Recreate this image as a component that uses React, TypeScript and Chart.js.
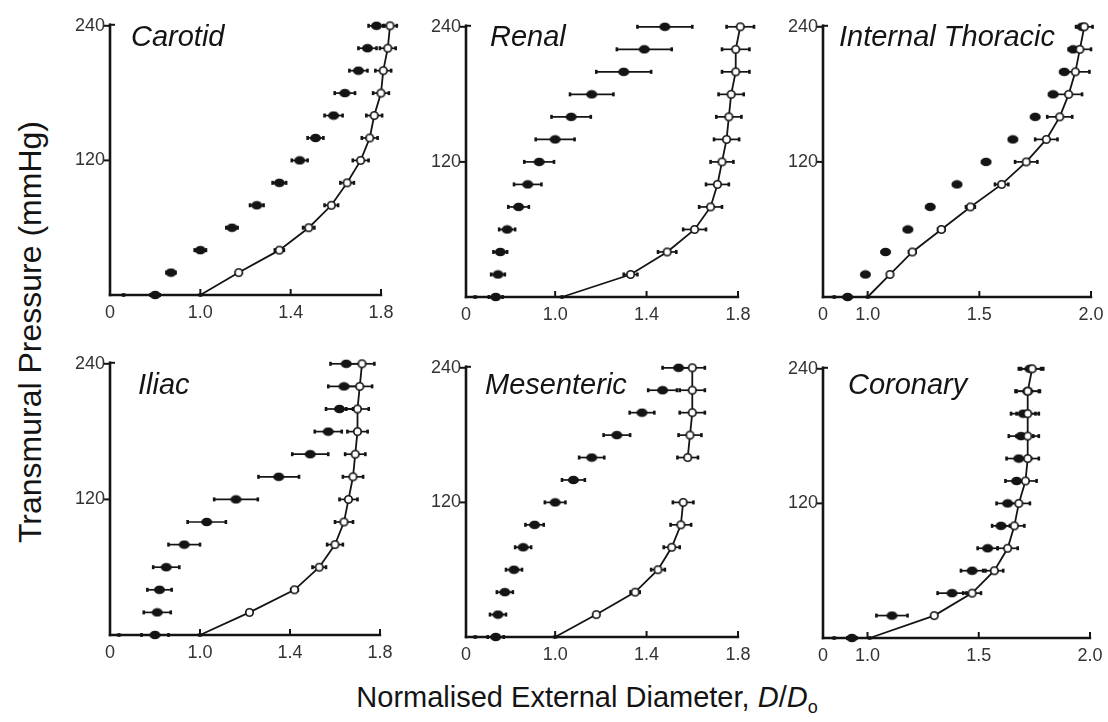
import React, { useEffect, useRef } from "react";
import { Chart, registerables } from "chart.js";
Chart.register(...registerables);

// ---------------- DATA ----------------
const pressure = [0, 20, 40, 60, 80, 100, 120, 140, 160, 180, 200, 220, 240];
const yTicks = [120, 240];
const xTicksA = [1.0, 1.4, 1.8];
const xTicksB = [1.0, 1.5, 2.0];

// Carotid
const carotidFilled = [0.80, 0.87, 1.00, 1.14, 1.25, 1.35, 1.44, 1.51, 1.59, 1.64, 1.70, 1.74, 1.78];
const carotidFilledErr = [0.02, 0.02, 0.025, 0.025, 0.03, 0.03, 0.035, 0.035, 0.04, 0.045, 0.04, 0.04, 0.035];
const carotidOpen = [1.00, 1.17, 1.35, 1.48, 1.58, 1.65, 1.71, 1.75, 1.77, 1.80, 1.81, 1.83, 1.84];
const carotidOpenErr = [0, 0, 0.02, 0.025, 0.03, 0.03, 0.035, 0.035, 0.035, 0.035, 0.035, 0.035, 0.03];
const carotidZero = 0.66;

// Renal
const renalFilled = [0.74, 0.75, 0.76, 0.79, 0.84, 0.88, 0.93, 1.00, 1.07, 1.16, 1.30, 1.39, 1.48];
const renalFilledErr = [0.03, 0.03, 0.03, 0.035, 0.045, 0.06, 0.065, 0.085, 0.086, 0.095, 0.12, 0.12, 0.12];
const renalOpen = [1.03, 1.33, 1.49, 1.61, 1.68, 1.71, 1.73, 1.75, 1.76, 1.77, 1.79, 1.79, 1.81];
const renalOpenErr = [0, 0.03, 0.04, 0.05, 0.05, 0.05, 0.05, 0.055, 0.055, 0.055, 0.06, 0.06, 0.06];
const renalZero = 0.65;

// Internal Thoracic
const thoracicFilled = [0.91, 0.99, 1.08, 1.18, 1.28, 1.40, 1.53, 1.65, 1.75, 1.83, 1.88, 1.92, 1.96];
const thoracicFilledErr = [0.015, 0.015, 0.015, 0.015, 0.015, 0.015, 0.015, 0.015, 0.015, 0.015, 0.015, 0.015, 0.015];
const thoracicOpen = [1.00, 1.10, 1.20, 1.33, 1.46, 1.60, 1.71, 1.80, 1.86, 1.90, 1.93, 1.95, 1.97];
const thoracicOpenErr = [0, 0, 0.015, 0.015, 0.02, 0.03, 0.05, 0.05, 0.056, 0.06, 0.063, 0.05, 0.037];
const thoracicZero = 0.85;

// Iliac
const iliacFilled = [0.80, 0.81, 0.82, 0.85, 0.93, 1.03, 1.16, 1.35, 1.49, 1.57, 1.62, 1.64, 1.65];
const iliacFilledErr = [0.06, 0.06, 0.054, 0.058, 0.07, 0.085, 0.097, 0.09, 0.08, 0.06, 0.06, 0.07, 0.07];
const iliacOpen = [1.00, 1.22, 1.42, 1.53, 1.60, 1.64, 1.66, 1.68, 1.69, 1.70, 1.70, 1.71, 1.72];
const iliacOpenErr = [0, 0, 0.015, 0.03, 0.035, 0.04, 0.04, 0.045, 0.045, 0.045, 0.05, 0.055, 0.055];
const iliacZero = 0.64;

// Mesenteric
const mesentericFilled = [0.74, 0.75, 0.78, 0.82, 0.86, 0.91, 1.00, 1.08, 1.16, 1.27, 1.38, 1.47, 1.54];
const mesentericFilledErr = [0.035, 0.035, 0.035, 0.035, 0.035, 0.04, 0.045, 0.05, 0.055, 0.058, 0.054, 0.063, 0.07];
const mesentericOpen = [1.00, 1.18, 1.35, 1.45, 1.51, 1.55, 1.56, null, 1.58, 1.59, 1.60, 1.60, 1.60];
const mesentericOpenErr = [0, 0, 0.02, 0.03, 0.035, 0.045, 0.045, 0, 0.045, 0.05, 0.055, 0.055, 0.055];
const mesentericZero = 0.65;

// Coronary
const coronaryFilled = [0.93, 1.11, 1.38, 1.47, 1.54, 1.60, 1.63, 1.67, 1.68, 1.69, 1.70, 1.72, 1.73];
const coronaryFilledErr = [0.02, 0.07, 0.065, 0.05, 0.045, 0.04, 0.05, 0.05, 0.055, 0.055, 0.055, 0.055, 0.05];
const coronaryOpen = [1.01, 1.30, 1.47, 1.57, 1.63, 1.66, 1.68, 1.71, 1.72, 1.72, 1.72, 1.72, 1.74];
const coronaryOpenErr = [0, 0, 0.04, 0.04, 0.045, 0.045, 0.05, 0.05, 0.05, 0.05, 0.05, 0.05, 0.05];
const coronaryZero = 0.85;

// ---------------- LAYOUT ----------------
type Panel = {
  name: string;
  filled: number[]; filledErr: number[];
  open: (number | null)[]; openErr: number[];
  zero: number;
  xMin: number; xTicks: number[];
  left: number; axisRight: number; top: number; bottom: number;
  titleX: number; titleY: number;
};

const panels: Panel[] = [
  { name: "Carotid", filled: carotidFilled, filledErr: carotidFilledErr, open: carotidOpen, openErr: carotidOpenErr, zero: carotidZero,
    xMin: 0.6, xTicks: xTicksA, left: 110, axisRight: 381, top: 25, bottom: 295, titleX: 131, titleY: 46 },
  { name: "Renal", filled: renalFilled, filledErr: renalFilledErr, open: renalOpen, openErr: renalOpenErr, zero: renalZero,
    xMin: 0.61, xTicks: xTicksA, left: 466, axisRight: 738, top: 26, bottom: 297, titleX: 490, titleY: 46 },
  { name: "Internal Thoracic", filled: thoracicFilled, filledErr: thoracicFilledErr, open: thoracicOpen, openErr: thoracicOpenErr, zero: thoracicZero,
    xMin: 0.8, xTicks: xTicksB, left: 823, axisRight: 1091, top: 26, bottom: 297, titleX: 839, titleY: 46 },
  { name: "Iliac", filled: iliacFilled, filledErr: iliacFilledErr, open: iliacOpen, openErr: iliacOpenErr, zero: iliacZero,
    xMin: 0.6, xTicks: xTicksA, left: 110, axisRight: 380, top: 363, bottom: 635, titleX: 138, titleY: 394 },
  { name: "Mesenteric", filled: mesentericFilled, filledErr: mesentericFilledErr, open: mesentericOpen, openErr: mesentericOpenErr, zero: mesentericZero,
    xMin: 0.61, xTicks: xTicksA, left: 466, axisRight: 738, top: 367, bottom: 637, titleX: 485, titleY: 394 },
  { name: "Coronary", filled: coronaryFilled, filledErr: coronaryFilledErr, open: coronaryOpen, openErr: coronaryOpenErr, zero: coronaryZero,
    xMin: 0.8, xTicks: xTicksB, left: 823, axisRight: 1090, top: 368, bottom: 638, titleX: 848, titleY: 394 },
];

const Y_W = 50;
const PAD_T = 15;
const PAD_R = 12;
const X_H = 32;
const EXTRA = 0.08;
const INK = "#141414";
const FONT = '"Liberation Sans", Arial, sans-serif';

function makeMarker(w: number, h: number, fill: string, stroke: string | null, lw: number) {
  const c = document.createElement("canvas");
  const pad = stroke ? Math.ceil(lw) + 1 : 1;
  c.width = w + pad * 2;
  c.height = h + pad * 2;
  const ctx = c.getContext("2d")!;
  ctx.beginPath();
  ctx.ellipse(c.width / 2, c.height / 2, w / 2, h / 2, 0, 0, Math.PI * 2);
  ctx.fillStyle = fill;
  ctx.fill();
  if (stroke) {
    ctx.lineWidth = lw;
    ctx.strokeStyle = stroke;
    ctx.stroke();
  }
  return c;
}

const errorBarPlugin = {
  id: "errorBars",
  beforeDatasetsDraw(chart: any) {
    const { ctx, scales } = chart;
    const xs = scales.x, ys = scales.y;
    ctx.save();
    ctx.strokeStyle = INK;
    ctx.fillStyle = INK;
    ctx.lineWidth = 1.7;
    chart.data.datasets.forEach((ds: any) => {
      if (!ds.errors) return;
      ds.data.forEach((pt: any, j: number) => {
        const e = ds.errors[j];
        if (pt.x == null || !e) return;
        const y = ys.getPixelForValue(pt.y);
        const x1 = xs.getPixelForValue(pt.x - e);
        const x2 = xs.getPixelForValue(pt.x + e);
        ctx.beginPath();
        ctx.moveTo(x1, y);
        ctx.lineTo(x2, y);
        ctx.stroke();
        ctx.fillRect(x1 - 1.3, y - 2, 2.6, 4);
        ctx.fillRect(x2 - 1.3, y - 2, 2.6, 4);
      });
    });
    ctx.restore();
  },
};

const decorPlugin = {
  id: "decor",
  beforeDatasetsDraw(chart: any, _args: any, opts: any) {
    const { ctx, chartArea, scales } = chart;
    const xs = scales.x, ys = scales.y;
    ctx.save();
    ctx.strokeStyle = INK;
    ctx.lineCap = "square";
    const line = (a: number, b: number, c: number, d: number, w: number) => {
      ctx.lineWidth = w;
      ctx.beginPath(); ctx.moveTo(a, b); ctx.lineTo(c, d); ctx.stroke();
    };
    const x0 = chartArea.left;
    const y0 = ys.getPixelForValue(0);
    const yTop = ys.getPixelForValue(yTicks[yTicks.length - 1]);
    const xEnd = xs.getPixelForValue(opts.axisEnd);
    // axis lines
    line(x0, y0, x0, yTop - 1, 2.6);
    line(x0, y0, xEnd, y0, 2.4);
    // x ticks (pointing up)
    xs.ticks.forEach((t: any, i: number) => {
      if (i === 0) return;
      const x = xs.getPixelForValue(t.value);
      line(x, y0, x, y0 - 5, 2);
    });
    // y ticks (pointing left) and top cap
    ys.ticks.forEach((t: any) => {
      const y = ys.getPixelForValue(t.value);
      line(x0 - 5, y, x0, y, 2);
    });
    line(x0, yTop - 1, x0 + 4, yTop - 1, 2);
    ctx.restore();
  },
  afterDraw(chart: any, _args: any, opts: any) {
    const { ctx } = chart;
    ctx.save();
    ctx.font = `italic 29px ${FONT}`;
    ctx.fillStyle = INK;
    ctx.textBaseline = "alphabetic";
    ctx.textAlign = "left";
    ctx.fillText(opts.title, opts.tx, opts.ty);
    ctx.restore();
  },
};

function PanelChart({ p }: { p: Panel }) {
  const ref = useRef<HTMLCanvasElement>(null);
  const lastTick = p.xTicks[p.xTicks.length - 1];
  const ppu = (p.axisRight - p.left) / (lastTick - p.xMin);
  const xMax = lastTick + EXTRA;
  const right = p.axisRight + EXTRA * ppu;
  const cw = Math.round(right - p.left + Y_W + PAD_R);
  const ch = p.bottom - p.top + PAD_T + X_H;
  const cl = p.left - Y_W;
  const ct = p.top - PAD_T;
  const padR = cw - (right - p.left + Y_W);

  useEffect(() => {
    if (!ref.current) return;
    const filledImg = makeMarker(11, 8.5, INK, null, 0);
    const openImg = makeMarker(7.5, 7.5, "#ffffff", INK, 1.7);
    const dotImg = makeMarker(5, 4, INK, null, 0);

    const openData = pressure.map((y, i) => ({ x: p.open[i], y }));
    const filledData = pressure.map((y, i) => ({ x: p.filled[i], y }));

    const chart = new Chart(ref.current, {
      type: "scatter",
      data: {
        datasets: [
          {
            label: "open",
            data: openData,
            showLine: true,
            spanGaps: false,
            borderColor: INK,
            borderWidth: 1.8,
            tension: 0,
            pointStyle: (c: any) => (c.dataIndex === 0 ? dotImg : openImg),
            clip: false,
            errors: p.openErr,
          } as any,
          {
            label: "filled",
            data: filledData,
            showLine: false,
            pointStyle: filledImg,
            clip: false,
            errors: p.filledErr,
          } as any,
          {
            label: "zero",
            data: [{ x: p.zero, y: 0 }],
            showLine: false,
            pointStyle: dotImg,
            clip: false,
          } as any,
        ],
      },
      options: {
        animation: false,
        responsive: false,
        devicePixelRatio: 1,
        layout: { padding: { left: 0, top: PAD_T, right: padR, bottom: 0 } },
        plugins: {
          legend: { display: false },
          tooltip: { enabled: false },
          decor: { title: p.name, tx: p.titleX - cl, ty: p.titleY - ct, axisEnd: lastTick },
        } as any,
        scales: {
          x: {
            type: "linear",
            min: p.xMin,
            max: xMax,
            afterBuildTicks: (s: any) => {
              s.ticks = [p.xMin, ...p.xTicks].map((v) => ({ value: v }));
            },
            afterFit: (s: any) => { s.height = X_H; },
            ticks: {
              autoSkip: false,
              maxRotation: 0,
              padding: 7,
              color: "#333",
              font: { family: FONT, size: 18 },
              callback: (v: any, i: number) => (i === 0 ? "0" : Number(v).toFixed(1)),
            },
            grid: { display: false, drawTicks: false },
            border: { display: false },
          },
          y: {
            type: "linear",
            min: 0,
            max: 240,
            afterBuildTicks: (s: any) => {
              s.ticks = yTicks.map((v) => ({ value: v }));
            },
            afterFit: (s: any) => { s.width = Y_W; },
            ticks: {
              autoSkip: false,
              padding: 5,
              color: "#333",
              font: { family: FONT, size: 18 },
              callback: (v: any) => String(v),
            },
            grid: { display: false, drawTicks: false },
            border: { display: false },
          },
        },
      } as any,
      plugins: [decorPlugin, errorBarPlugin],
    });
    return () => chart.destroy();
  }, [p]);

  return (
    <canvas
      ref={ref}
      width={cw}
      height={ch}
      style={{ position: "absolute", left: cl, top: ct, width: cw, height: ch }}
    />
  );
}

export default function App() {
  return (
    <div style={{ position: "absolute", left: 0, top: 0, width: 1108, height: 722, background: "#fff", overflow: "hidden", fontFamily: FONT }}>
      {panels.map((p) => (
        <PanelChart key={p.name} p={p} />
      ))}
      <div
        style={{
          position: "absolute",
          left: 30 - 280,
          top: 332 - 19,
          width: 560,
          height: 38,
          lineHeight: "38px",
          textAlign: "center",
          fontSize: 32,
          color: INK,
          transform: "rotate(-90deg)",
          whiteSpace: "nowrap",
        }}
      >
        Transmural Pressure (mmHg)
      </div>
      <div
        style={{
          position: "absolute",
          left: 587 - 300,
          top: 680,
          width: 600,
          height: 34,
          lineHeight: "34px",
          textAlign: "center",
          fontSize: 29,
          color: INK,
          whiteSpace: "nowrap",
        }}
      >
        Normalised External Diameter, <i>D</i>/<i>D</i>
        <sub style={{ fontSize: 18, verticalAlign: "-6px", lineHeight: 0 }}>o</sub>
      </div>
    </div>
  );
}
